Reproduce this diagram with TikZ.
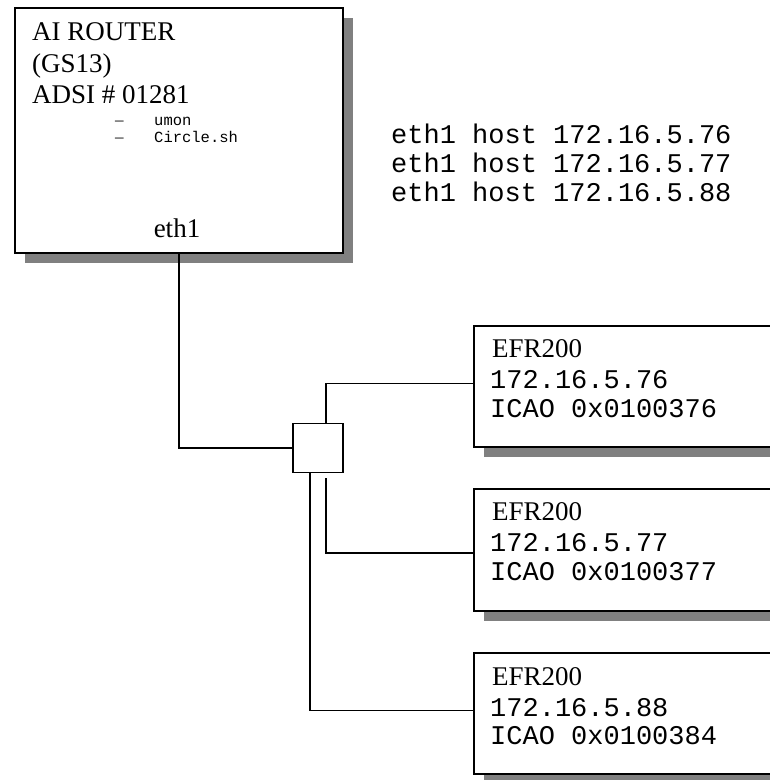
\documentclass[tikz,border=0pt]{standalone}
\usepackage{fontspec}
\setmainfont{Liberation Serif}
\setmonofont{Liberation Mono}
\usetikzlibrary{shadows,backgrounds}
\definecolor{shadowgray}{RGB}{128,128,128}
\begin{document}
\begin{tikzpicture}[x=1pt,y=-1pt,
  box/.style={draw=black, line width=1.5pt, fill=white, inner sep=0pt},
  shbox/.style={box, drop shadow={shadow xshift=10pt, shadow yshift=-10pt, fill=shadowgray, opacity=1}},
  wire/.style={draw=black, line width=1.5pt},
  serif/.style={font=\fontsize{27}{30}\selectfont, inner sep=0pt, anchor=base west},
  mono/.style={font=\ttfamily\fontsize{27}{30}\selectfont, inner sep=0pt, anchor=base west},
  small/.style={font=\ttfamily\fontsize{15.5}{18}\selectfont, inner sep=0pt, anchor=base west},
  dashmark/.style={font=\fontsize{17}{18}\selectfont, inner sep=0pt, anchor=base west}]
\useasboundingbox (0,0) rectangle (770,780);
\clip (0,0) rectangle (770,780);
\fill[white] (0,0) rectangle (770,780);

% router
\node[shbox, minimum width=328pt, minimum height=245pt, anchor=north west] (router) at (14,7) {};
\node[serif] (r1) at (32,40) {AI ROUTER};
\node[serif] (r2) at (32,72) {(GS13)};
\node[serif] (r3) at (32,103) {ADSI \# 01281};
\node[dashmark] (d1) at (115,125) {–};
\node[small] (s1) at (154,125) {umon};
\node[dashmark] (d2) at (115,142) {–};
\node[small] (s2) at (154,142) {Circle.sh};
\node[font=\fontsize{27}{30}\selectfont, inner sep=0pt, anchor=base] (eth) at (177,237) {eth1};

% host list
\node[mono] (h1) at (391,143) {eth1 host 172.16.5.76};
\node[mono] (h2) at (391,172) {eth1 host 172.16.5.77};
\node[mono] (h3) at (391,201) {eth1 host 172.16.5.88};

% switch
\node[box, minimum width=50pt, minimum height=49pt] (switch) at (318,448) {};

% EFR boxes
\node[shbox, minimum width=320pt, minimum height=121pt, anchor=north west] (efr1) at (473,325) {};
\node[serif] (e1a) at (492,357) {EFR200};
\node[mono] (e1b) at (490,388) {172.16.5.76};
\node[mono] (e1c) at (490,417) {ICAO 0x0100376};

\node[shbox, minimum width=320pt, minimum height=122pt, anchor=north west] (efr2) at (473,488) {};
\node[serif] (e2a) at (492,520) {EFR200};
\node[mono] (e2b) at (490,551) {172.16.5.77};
\node[mono] (e2c) at (490,580) {ICAO 0x0100377};

\node[shbox, minimum width=320pt, minimum height=121pt, anchor=north west] (efr3) at (473,652) {};
\node[serif] (e3a) at (492,685) {EFR200};
\node[mono] (e3b) at (490,716) {172.16.5.88};
\node[mono] (e3c) at (490,744) {ICAO 0x0100384};

% connectors
\draw[wire] (router.south) |- (switch.west);
\draw[wire] ([xshift=8pt]switch.north) |- ([yshift=3pt]efr1.west);
\coordinate (tap2) at (326,478);
\draw[wire] (tap2) |- ([yshift=-3pt]efr2.west);
\draw[wire] ([xshift=-8pt]switch.south) |- ([yshift=3pt]efr3.west);
\end{tikzpicture}
\end{document}
